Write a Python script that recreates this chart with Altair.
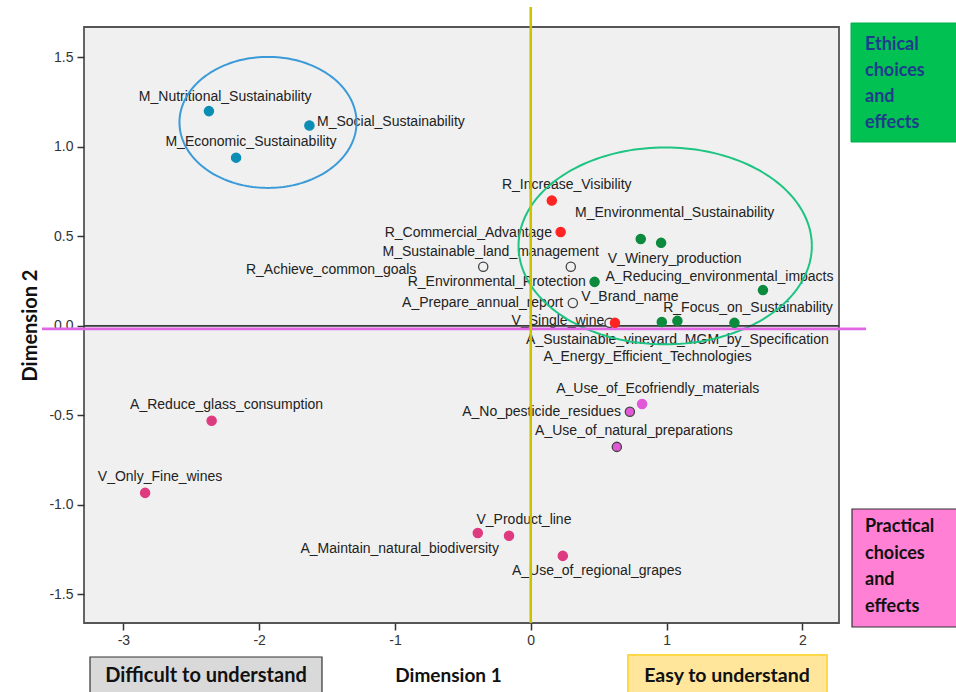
import altair as alt
import numpy as np
import pandas as pd

# ---- data ----
names = [
    "M_Nutritional_Sustainability", "M_Social_Sustainability", "M_Economic_Sustainability",
    "R_Increase_Visibility", "R_Commercial_Advantage", "M_Environmental_Sustainability",
    "V_Winery_production", "M_Sustainable_land_management", "R_Achieve_common_goals",
    "R_Environmental_Protection", "A_Reducing_environmental_impacts", "A_Prepare_annual_report",
    "V_Brand_name", "R_Focus_on_Sustainability", "V_Single_wine",
    "A_Sustainable_vineyard_MGM_by_Specification", "A_Energy_Efficient_Technologies",
    "A_Use_of_Ecofriendly_materials", "A_No_pesticide_residues", "A_Use_of_natural_preparations",
    "V_Product_line", "A_Maintain_natural_biodiversity", "A_Use_of_regional_grapes",
    "A_Reduce_glass_consumption", "V_Only_Fine_wines",
]
dim1 = [-2.37, -1.63, -2.17, 0.155, 0.22, 0.81, 0.96, -0.35, 0.295, 0.47, 1.71, 0.31,
        0.965, 1.08, 0.58, 1.50, 0.62, 0.82, 0.73, 0.634, -0.16, -0.39, 0.236, -2.35, -2.84]
dim2 = [1.20, 1.12, 0.94, 0.70, 0.525, 0.486, 0.464, 0.33, 0.33, 0.246, 0.20, 0.128,
        0.022, 0.028, 0.017, 0.017, 0.017, -0.436, -0.48, -0.676, -1.173, -1.157, -1.285,
        -0.53, -0.933]
groups = ["blue", "blue", "blue", "red", "red", "green", "green", "hollow", "hollow",
          "green", "green", "hollow", "green", "green", "hollow", "green", "red",
          "violet", "violet_o", "violet_o", "crimson", "crimson", "crimson", "crimson", "crimson"]
label_x = [-2.25, -1.03, -2.06, 0.265, -0.46, 1.06, 1.06, -0.295, -1.47, -0.25, 1.39, -0.354,
           0.73, 1.60, 0.20, 1.08, 0.86, 0.935, 0.08, 0.76, -0.05, -0.965, 0.486, -2.24, -2.73]
label_y = [1.28, 1.14, 1.03, 0.79, 0.52, 0.63, 0.374, 0.413, 0.313, 0.246, 0.274, 0.128,
           0.162, 0.10, 0.028, -0.078, -0.173, -0.352, -0.48, -0.587, -1.084, -1.246, -1.369,
           -0.441, -0.844]

group_names = ["blue", "red", "green", "hollow", "violet", "violet_o", "crimson"]
group_fill = ["#0b8db4", "#ff2424", "#0c8a3e", "#f0f0f0", "#e256d8", "#e256d8", "#de3a80"]
group_stroke = ["#0b8db4", "#ff2424", "#0c8a3e", "#444444", "#e256d8", "#444444", "#de3a80"]

# circled clusters: centre x, centre y, radius x, radius y
ell_names = ["M cluster", "Ethical cluster"]
ell_cx = [-1.935, 0.99]
ell_cy = [1.137, 0.447]
ell_rx = [0.652, 1.08]
ell_ry = [0.366, 0.55]
ell_color = ["#3b9ad8", "#1ec482"]

x_ticks = [-3, -2, -1, 0, 1, 2]
y_ticks = [-1.5, -1.0, -0.5, 0.0, 0.5, 1.0, 1.5]
x_domain = [-3.29, 2.27]
y_domain = [-1.66, 1.67]

pts = pd.DataFrame({"name": names, "d1": dim1, "d2": dim2, "group": groups,
                    "lx": label_x, "ly": label_y})

ell_rows = []
t = np.linspace(0, 2 * np.pi, 181)
for n, cx, cy, rx, ry in zip(ell_names, ell_cx, ell_cy, ell_rx, ell_ry):
    for i, a in enumerate(t):
        ell_rows.append({"e": n, "i": i, "x": cx + rx * np.cos(a), "y": cy + ry * np.sin(a)})
ell = pd.DataFrame(ell_rows)

W, H = 755, 596
xs = alt.Scale(domain=x_domain, nice=False, zero=False)
ys = alt.Scale(domain=y_domain, nice=False, zero=False)

font = "Liberation Sans"
bold_font = "Lato"

x_axis = alt.Axis(values=x_ticks, labelExpr="datum.value < 0 ? '-' + format(-datum.value, 'd') : format(datum.value, 'd')",
                  grid=False, domain=False, tickSize=7, tickColor="#333", tickWidth=1.5,
                  labelFont=font, labelFontSize=14, labelColor="#333", labelPadding=3,
                  title="Dimension 1", titleFont=bold_font, titleFontSize=19, titleFontWeight="bold",
                  titleColor="#111", titleX=364, titleY=52, titleAlign="center", titleBaseline="middle")
y_axis = alt.Axis(values=y_ticks, labelExpr="datum.value < 0 ? '-' + format(-datum.value, '.1f') : format(datum.value, '.1f')",
                  grid=False, domain=False, tickSize=7, tickColor="#333", tickWidth=1.5,
                  labelFont=font, labelFontSize=14, labelColor="#333", labelPadding=4,
                  title="Dimension 2", titleFont=bold_font, titleFontSize=20, titleFontWeight="bold",
                  titleColor="#111", titleX=-54, titleY=298, titleAlign="center", titleBaseline="middle",
                  titleAngle=270)

base = alt.Chart(pts)

labels = base.mark_text(font=font, fontSize=14, color="#222", align="center", baseline="middle").encode(
    x=alt.X("lx:Q", scale=xs, axis=x_axis),
    y=alt.Y("ly:Q", scale=ys, axis=y_axis),
    text="name:N",
)

ellipses = alt.Chart(ell).mark_line(strokeWidth=2, interpolate="linear").encode(
    x=alt.X("x:Q", scale=xs),
    y=alt.Y("y:Q", scale=ys),
    detail="e:N",
    order="i:Q",
    color=alt.Color("e:N", scale=alt.Scale(domain=ell_names, range=ell_color), legend=None),
)

line_df = pd.DataFrame({"v": [0.0]})
zero_h = alt.Chart(line_df).mark_rule(color="#3a3a3a", strokeWidth=1.6).encode(
    y=alt.Y("v:Q", scale=ys), x=alt.value(0), x2=alt.value(W))
magenta = alt.Chart(line_df).mark_rule(color="#e066e6", strokeWidth=2.6).encode(
    y=alt.Y("v:Q", scale=ys), yOffset=alt.value(3), x=alt.value(-42), x2=alt.value(W + 27))
yellow = alt.Chart(line_df).mark_rule(color="#cbc200", strokeWidth=2.6).encode(
    x=alt.X("v:Q", scale=xs), y=alt.value(-20), y2=alt.value(H))

points = base.mark_point(filled=True, shape="circle", size=85, strokeWidth=1.3, opacity=1).encode(
    x=alt.X("d1:Q", scale=xs),
    y=alt.Y("d2:Q", scale=ys),
    fill=alt.Fill("group:N", scale=alt.Scale(domain=group_names, range=group_fill), legend=None),
    stroke=alt.Stroke("group:N", scale=alt.Scale(domain=group_names, range=group_stroke), legend=None),
)

# ---- annotation boxes ----
box_text = ["Ethical", "choices", "and", "effects"]
box2_text = ["Practical", "choices", "and", "effects"]
one = pd.DataFrame({"k": [0]})

green_box = alt.Chart(one).mark_rect(fill="#00c152", stroke="#00b04a").encode(
    x=alt.value(767), x2=alt.value(880), y=alt.value(-4), y2=alt.value(115))
green_txt = alt.Chart(one).mark_text(
    text=box_text, lineHeight=26, font=bold_font, fontSize=18, fontWeight="bold", color="#1f3b8c",
    align="left", baseline="top").encode(x=alt.value(781), y=alt.value(9))

pink_box = alt.Chart(one).mark_rect(fill="#ff80d4", stroke="#333", strokeWidth=1.2).encode(
    x=alt.value(768), x2=alt.value(880), y=alt.value(482), y2=alt.value(600))
pink_txt = alt.Chart(one).mark_text(
    text=box2_text, lineHeight=26.5, font=bold_font, fontSize=18, fontWeight="bold", color="#111",
    align="left", baseline="top").encode(x=alt.value(781), y=alt.value(491))

gray_box = alt.Chart(one).mark_rect(fill="#d9d9d9", stroke="#333", strokeWidth=1.2).encode(
    x=alt.value(6), x2=alt.value(238), y=alt.value(630), y2=alt.value(680))
gray_txt = alt.Chart(one).mark_text(
    text="Difficult to understand", font=bold_font, fontSize=20, fontWeight="bold", color="#111",
    align="center", baseline="middle").encode(x=alt.value(122), y=alt.value(649))

yellow_box = alt.Chart(one).mark_rect(fill="#ffe69a", stroke="#ffd84a", strokeWidth=2).encode(
    x=alt.value(544), x2=alt.value(743), y=alt.value(628), y2=alt.value(680))
yellow_txt = alt.Chart(one).mark_text(
    text="Easy to understand", font=bold_font, fontSize=19.5, fontWeight="bold", color="#111",
    align="center", baseline="middle").encode(x=alt.value(643), y=alt.value(649))

chart = alt.layer(
    labels, ellipses, zero_h, magenta, yellow, points,
    green_box, green_txt, pink_box, pink_txt, gray_box, gray_txt, yellow_box, yellow_txt,
).properties(
    width=W, height=H,
    autosize=alt.AutoSizeParams(type="none"),
    padding={"left": 84, "top": 27, "right": 117, "bottom": 69},
    background="white",
).configure_view(fill="#f0f0f0", stroke="#555555", strokeWidth=1.8)

chart.save("out.html", embed_options={"renderer": "svg", "actions": False})
